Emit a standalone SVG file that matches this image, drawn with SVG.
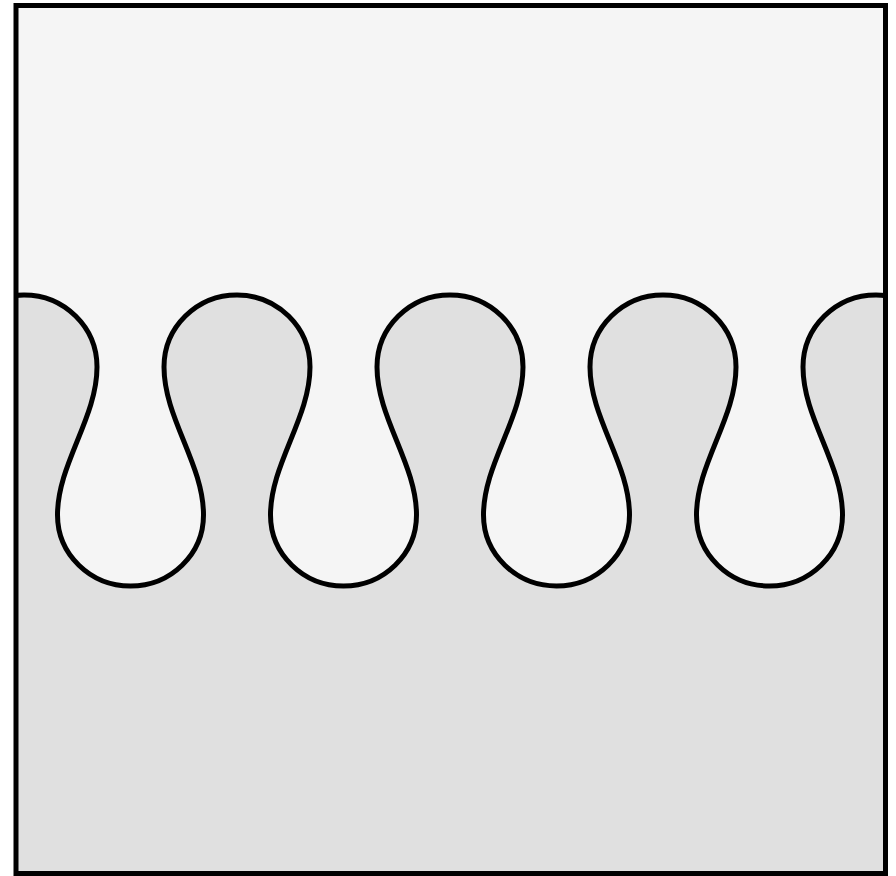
<svg xmlns="http://www.w3.org/2000/svg" xmlns:xlink="http://www.w3.org/1999/xlink" width="896" height="876" viewBox="0 0 896 876">
  <style>
    .top { fill: #f5f5f5; }
    .bottom { fill: #e0e0e0; stroke: #000; stroke-width: 5; stroke-linejoin: round; }
    .frame { fill: none; stroke: #000; stroke-width: 5; }
  </style>
  <defs>
    <clipPath id="box">
      <rect x="16" y="5.5" width="869.5" height="868"/>
    </clipPath>
  </defs>
  <g id="background">
    <rect class="top" x="16" y="5.5" width="869.5" height="868"/>
  </g>
  <g id="interface" clip-path="url(#box)">
    <path class="bottom" d="M -49 900 L -49 367
      A 73 72 0 0 1 97 367 C 97 418 57.5 464 57.5 515 A 73 71 0 0 0 203.5 515 C 203.5 464 164 418 164 367
      A 73 72 0 0 1 310 367 C 310 418 270.5 464 270.5 515 A 73 71 0 0 0 416.5 515 C 416.5 464 377 418 377 367
      A 73 72 0 0 1 523 367 C 523 418 483.5 464 483.5 515 A 73 71 0 0 0 629.5 515 C 629.5 464 590 418 590 367
      A 73 72 0 0 1 736 367 C 736 418 696.5 464 696.5 515 A 73 71 0 0 0 842.5 515 C 842.5 464 803 418 803 367
      A 73 72 0 0 1 949 367 L 949 900 Z"/>
  </g>
  <g id="frame">
    <rect class="frame" x="16" y="5.5" width="869.5" height="868"/>
  </g>
</svg>
